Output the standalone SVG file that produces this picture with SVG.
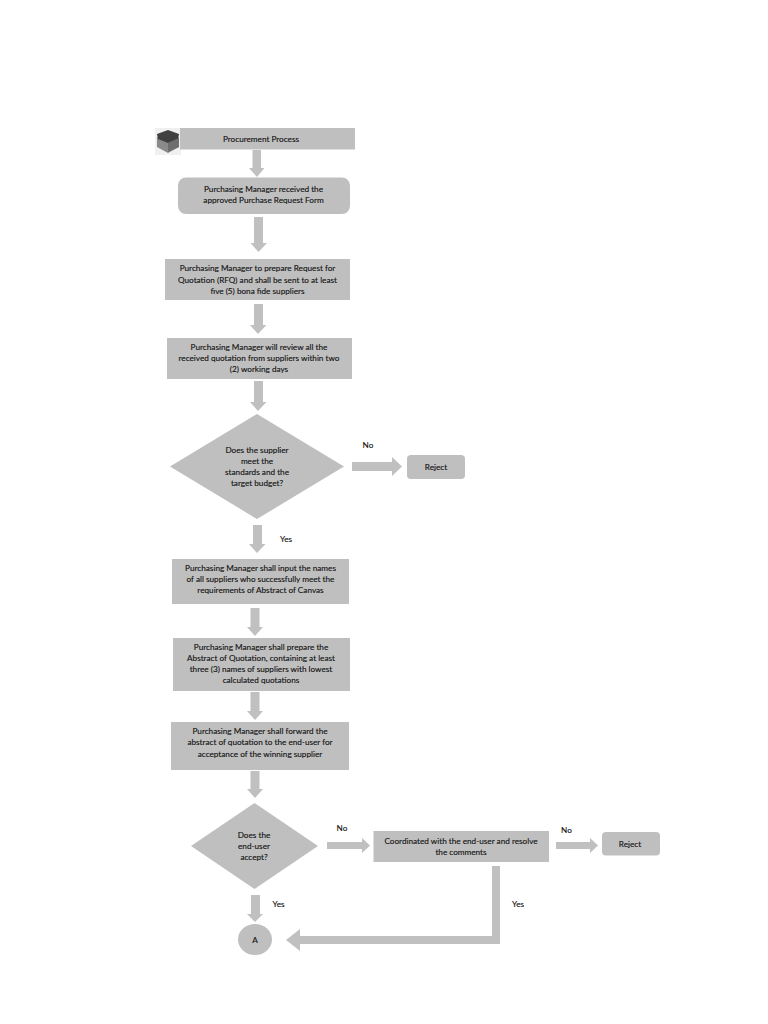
<svg xmlns="http://www.w3.org/2000/svg" width="768" height="1024" viewBox="0 0 768 1024">
<style>
.s{fill:#bfbfbf}
.a{fill:#c0c0c0}
text{font-family:Lato,"Open Sans","Liberation Sans",sans-serif;font-size:8.2px;fill:#111;text-anchor:middle;stroke:#111;stroke-width:.12px}
</style>
<rect width="768" height="1024" fill="#fff"/>
<g id="connectors" class="a">
<polygon points="252.500,150 261,150 261,168 264.500,168 257,177 249,168 252.500,168"/>
<polygon points="254,217 263,217 263,243 267,243 258.500,252 250.500,243 254,243"/>
<polygon points="254,304 263,304 263,325 266.500,325 258,334 250,325 254,325"/>
<polygon points="254,381 263,381 263,402 266.500,402 258,411 250,402 254,402"/>
<polygon points="253,525 262,525 262,544 265.500,544 257,553 249,544 253,544"/>
<polygon points="250.500,608 259.500,608 259.500,627 263,627 255,636 247,627 250.500,627"/>
<polygon points="250.500,692 259.500,692 259.500,711 263,711 255,720 247,711 250.500,711"/>
<polygon points="250.500,771 259.500,771 259.500,789 263,789 255,798 247,789 250.500,789"/>
<polygon points="251,895 260,895 260,914 263,914 255,922 247,914 251,914"/>
<polygon points="352,462 392,462 392,457 402,466.500 392,476 392,471 352,471"/>
<polygon points="327,842 362,842 362,838 370,845.500 362,853 362,849 327,849"/>
<polygon points="556,842 590,842 590,838 598,845.500 590,853 590,849 556,849"/>
<polygon points="492,866 500,866 500,944 300,944 300,951 286,940 300,929 300,936 492,936"/>
</g>
<g id="icon">
<rect x="155" y="128" width="26" height="27" fill="#f0f0f0"/>
<polygon points="157,137 168,142 179,137 179,147 168,153 157,147" fill="#8a8a8a"/>
<polygon points="157,134 168,130 179,134 178,139 168,143 158,139" fill="#404040"/>
<polygon points="168,143 179,138 179,147 168,152" fill="#6e6e6e"/>
</g>
<g id="n-title"><rect class="s" x="180" y="128" width="175" height="21.500"/><text x="261" y="142.300">Procurement Process</text></g>
<g id="n-received"><rect class="s" x="178" y="177.500" width="172" height="36.500" rx="8"/><text x="263.500" y="192.300">Purchasing Manager received the</text><text x="263.500" y="203.300">approved Purchase Request Form</text></g>
<g id="n-prepare"><rect class="s" x="165" y="259" width="185" height="41"/><text x="257.500" y="271.300">Purchasing Manager to prepare Request for</text><text x="257.500" y="283.300">Quotation (RFQ) and shall be sent to at least</text><text x="257.500" y="294.300">five (5) bona fide suppliers</text></g>
<g id="n-review"><rect class="s" x="167" y="338" width="185" height="41"/><text x="259" y="350.300">Purchasing Manager will review all the</text><text x="259" y="361.300">received quotation from suppliers within two</text><text x="259" y="372.300">(2) working days</text></g>
<g id="n-d1"><polygon class="s" points="257,414 344,466.500 257,519 170,466.500"/><text x="257" y="453.300">Does the supplier</text><text x="257" y="464.300">meet the</text><text x="257" y="475.300">standards and the</text><text x="257" y="486.300">target budget?</text></g>
<g id="n-reject1"><rect class="s" x="407" y="455" width="58" height="24" rx="4"/><text x="436" y="469.500">Reject</text></g>
<g id="n-input"><rect class="s" x="172" y="559" width="177" height="45"/><text x="260.500" y="571.300">Purchasing Manager shall input the names</text><text x="260.500" y="582.300">of all suppliers who successfully meet the</text><text x="260.500" y="593.300">requirements of Abstract of Canvas</text></g>
<g id="n-abstract"><rect class="s" x="173" y="638" width="177" height="53"/><text x="261" y="650.300">Purchasing Manager shall prepare the</text><text x="261" y="661.300">Abstract of Quotation, containing at least</text><text x="261" y="672.300">three (3) names of suppliers with lowest</text><text x="261" y="683.300">calculated quotations</text></g>
<g id="n-forward"><rect class="s" x="171" y="722" width="178" height="48"/><text x="260" y="734.300">Purchasing Manager shall forward the</text><text x="260" y="745.300">abstract of quotation to the end-user for</text><text x="260" y="757.300">acceptance of the winning supplier</text></g>
<g id="n-d2"><polygon class="s" points="254.500,803 318,846 254.500,889 191,846"/><text x="254" y="837.500">Does the</text><text x="254" y="848.500">end-user</text><text x="254" y="859.500">accept?</text></g>
<g id="n-coord"><rect class="s" x="373.500" y="831" width="175.500" height="31"/><text x="461" y="843.500">Coordinated with the end-user and resolve</text><text x="461" y="855">the comments</text></g>
<g id="n-reject2"><rect class="s" x="602" y="832" width="58" height="23.500" rx="4"/><text x="630" y="846.500">Reject</text></g>
<g id="n-a"><ellipse class="s" cx="255" cy="939.500" rx="17" ry="15.500"/><text x="255" y="942.500">A</text></g>
<g id="labels">
<text x="368" y="448">No</text>
<text x="286" y="541.500">Yes</text>
<text x="342" y="830.500">No</text>
<text x="566.500" y="832.500">No</text>
<text x="278.500" y="907">Yes</text>
<text x="518" y="907">Yes</text>
</g>
</svg>
